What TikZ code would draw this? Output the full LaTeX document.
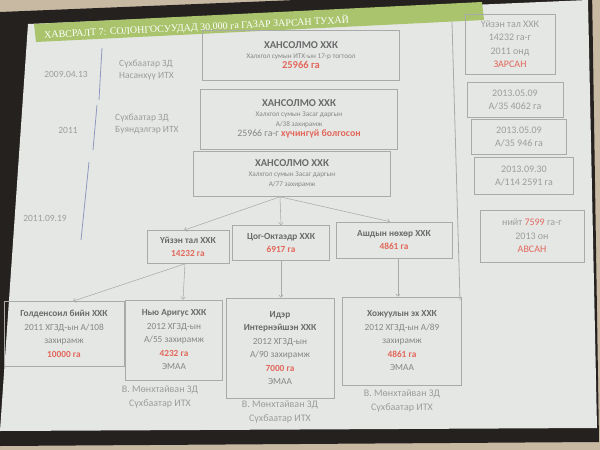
\documentclass[tikz,border=0pt]{standalone}
\usepackage{fontspec}
\setmainfont{Carlito}
\newfontfamily\titlefont{Liberation Serif}
\usetikzlibrary{arrows.meta,positioning}
\definecolor{wall}{HTML}{C8B9A3}
\definecolor{framedark}{HTML}{25211F}
\definecolor{slidebg}{HTML}{E5E7E5}
\definecolor{bargreen}{HTML}{A9C46C}
\definecolor{txtgray}{HTML}{858685}
\definecolor{headgray}{HTML}{6A6A6A}
\definecolor{notegray}{HTML}{9C9C9C}
\definecolor{boxgray}{HTML}{A9AAA9}
\definecolor{hired}{HTML}{E2675A}
\definecolor{lineblue}{HTML}{8F98BE}
\newcommand{\boxhead}[1]{{\bfseries\color{headgray}#1}}
\newcommand{\redval}[1]{{\bfseries\color{hired}#1}}
\tikzset{
  box/.style={draw=boxgray, line width=0.6pt, align=center, inner sep=2pt, text=txtgray, font=\fontsize{7.5}{10}\selectfont},
  hsbox/.style={box, minimum width=197pt},
  subbox/.style={box, font=\fontsize{9.3}{13.5}\selectfont},
  sidebox/.style={box, font=\fontsize{10}{13.5}\selectfont, text=notegray},
  note/.style={align=center, text=notegray, inner sep=1pt, font=\fontsize{10}{14}\selectfont},
  datelabel/.style={text=notegray, inner sep=1pt, font=\fontsize{9.5}{12}\selectfont},
  arrow/.style={-{Straight Barb[length=2.5pt,width=4.5pt]}, draw=boxgray, line width=0.55pt},
  timeline/.style={draw=lineblue, line width=0.8pt}
}

\begin{document}
\begin{tikzpicture}[x=1pt, y=-1pt]
  \useasboundingbox (0,0) rectangle (600,450);
  % photo frame and slide
  \fill[wall] (0,0) rectangle (600,450);
  \fill[framedark] (0,12) -- (592,-12) -- (599,442) -- (0,446) -- cycle;
  \fill[slidebg] (28,24) -- (588,0) -- (597,428) -- (0,431) -- cycle;
  \fill[bargreen] (34,24) -- (482,2) -- (484,20) -- (36,42) -- cycle;
  \node[anchor=west, rotate=2.8, text=white, inner sep=0pt,
        font=\titlefont\fontsize{10}{10}\selectfont] (title) at (44,35)
    {ХАВСРАЛТ 7: СОЛОНГОСУУДАД 30,000 га ГАЗАР ЗАРСАН ТУХАЙ};

  % Hansolmo chain
  \node[hsbox, minimum height=50pt] (hs1) at (301,55)
    {\boxhead{\fontsize{10.5}{12}\selectfont ХАНСОЛМО ХХК}\\
     {\fontsize{7.2}{9}\selectfont Халхгол сумын ИТХ-ын 17-р тогтоол}\\
     \redval{\fontsize{10.5}{12}\selectfont 25966 га}};
  \node[hsbox, minimum height=60pt] (hs2) at (299,119)
    {\boxhead{\fontsize{10.5}{12}\selectfont ХАНСОЛМО ХХК}\\
     {\fontsize{7.2}{9}\selectfont Халхгол сумын Засаг даргын}\\
     {\fontsize{7.2}{9}\selectfont А/38 захирамж}\\
     {\fontsize{9.8}{11}\selectfont 25966 га-г \redval{хүчингүй болгосон}}};
  \node[hsbox, minimum height=45pt] (hs3) at (292,174)
    {\boxhead{\fontsize{10.5}{12}\selectfont ХАНСОЛМО ХХК}\\
     {\fontsize{7.2}{9}\selectfont Халхгол сумын Засаг даргын}\\
     {\fontsize{7.2}{9}\selectfont А/77 захирамж}};

  % dates on the left
  \node[datelabel] (d1) at (66,74) {2009.04.13};
  \node[datelabel, align=left, anchor=west] (who1) at (118,70) {Сүхбаатар ЗД\\Насанхүү ИТХ};
  \node[datelabel] (d2) at (68,130) {2011};
  \node[datelabel, align=left, anchor=west] (who2) at (114,124) {Сүхбаатар ЗД\\Буяндэлгэр ИТХ};
  \node[datelabel] (d3) at (45,218) {2011.09.19};
  \coordinate (t1a) at (102,48);  \coordinate (t1b) at (99,100);
  \coordinate (t2a) at (97,105);  \coordinate (t2b) at (93,150);
  \coordinate (t3a) at (89,162);  \coordinate (t3b) at (81,240);
  \draw[timeline] (t1a) -- (t1b);
  \draw[timeline] (t2a) -- (t2b);
  \draw[timeline] (t3a) -- (t3b);

  % second level
  \node[subbox, minimum width=82pt, minimum height=33pt] (uizen) at (188,247)
    {\boxhead{Үйзэн тал ХХК}\\\redval{14232 га}};
  \node[subbox, minimum width=97pt, minimum height=35pt] (tsog) at (281,243)
    {\boxhead{Цог-Октаэдр ХХК}\\\redval{6917 га}};
  \node[subbox, minimum width=116pt, minimum height=36pt] (ashid) at (394,240)
    {\boxhead{Ашдын нөхөр ХХК}\\\redval{4861 га}};

  % third level
  \node[subbox, minimum width=120pt, minimum height=65pt] (golden) at (64,334)
    {\boxhead{Голденсоил бийн ХХК}\\2011 ХГЗД-ын А/108\\захирамж\\\redval{10000 га}};
  \node[subbox, minimum width=97pt, minimum height=80pt] (nyu) at (174,340)
    {\boxhead{Нью Аригус ХХК}\\2012 ХГЗД-ын\\А/55 захирамж\\\redval{4232 га}\\ЭМАА};
  \node[subbox, minimum width=108pt, minimum height=100pt] (ider) at (280,348)
    {\boxhead{Идэр}\\\boxhead{Интернэйшэн ХХК}\\2012 ХГЗД-ын\\А/90 захирамж\\\redval{7000 га}\\ЭМАА};
  \node[subbox, minimum width=119pt, minimum height=88pt] (khozh) at (402,341)
    {\boxhead{Хожуулын эх ХХК}\\2012 ХГЗД-ын А/89\\захирамж\\\redval{4861 га}\\ЭМАА};

  \node[note, below=4pt of nyu, xshift=-14pt] (nyuitx) {В. Мөнхтайван ЗД\\Сүхбаатар ИТХ};
  \node[note, below=1pt of ider] (iderItx) {В. Мөнхтайван ЗД\\Сүхбаатар ИТХ};
  \node[note, below=3pt of khozh] (khozhItx) {В. Мөнхтайван ЗД\\Сүхбаатар ИТХ};

  % arrows
  \coordinate (split) at ([xshift=-12pt]hs3.south);
  \draw[arrow] (split) -- ([xshift=-4pt]uizen.north);
  \draw[arrow] (split) -- (tsog.north);
  \draw[arrow] (split) -- ([xshift=-4pt]ashid.north);
  \draw[arrow] ([xshift=-3pt]uizen.south) -- ([xshift=9pt]golden.north);
  \draw[arrow] ([xshift=-3pt]uizen.south) -- ([xshift=9pt]nyu.north);
  \draw[arrow] (tsog.south) -- (tsog.south |- ider.north);
  \draw[arrow] ([xshift=4pt]ashid.south) -- ([xshift=4pt]ashid.south |- khozh.north);

  % right column
  \coordinate (sepTop) at (452,22);
  \coordinate (sepBot) at (460,300);
  \draw[draw=boxgray, line width=0.8pt] (sepTop) -- (sepBot);
  \node[sidebox, minimum width=90pt, minimum height=60pt] (sold) at (510,44)
    {Үйзэн тал ХХК\\14232 га-г\\2011 онд\\{\color{hired}ЗАРСАН}};
  \node[sidebox, minimum width=96pt, minimum height=35pt] (r1) at (515,100)
    {2013.05.09\\А/35 4062 га};
  \node[sidebox, minimum width=95pt, minimum height=35pt] (r2) at (519,137)
    {2013.05.09\\А/35 946 га};
  \node[sidebox, minimum width=99pt, minimum height=37pt] (r3) at (524,176)
    {2013.09.30\\А/114 2591 га};
  \node[sidebox, minimum width=104pt, minimum height=52pt] (took) at (532,236)
    {нийт {\color{hired}7599} га-г\\2013 он\\{\color{hired}АВСАН}};
\end{tikzpicture}
\end{document}
